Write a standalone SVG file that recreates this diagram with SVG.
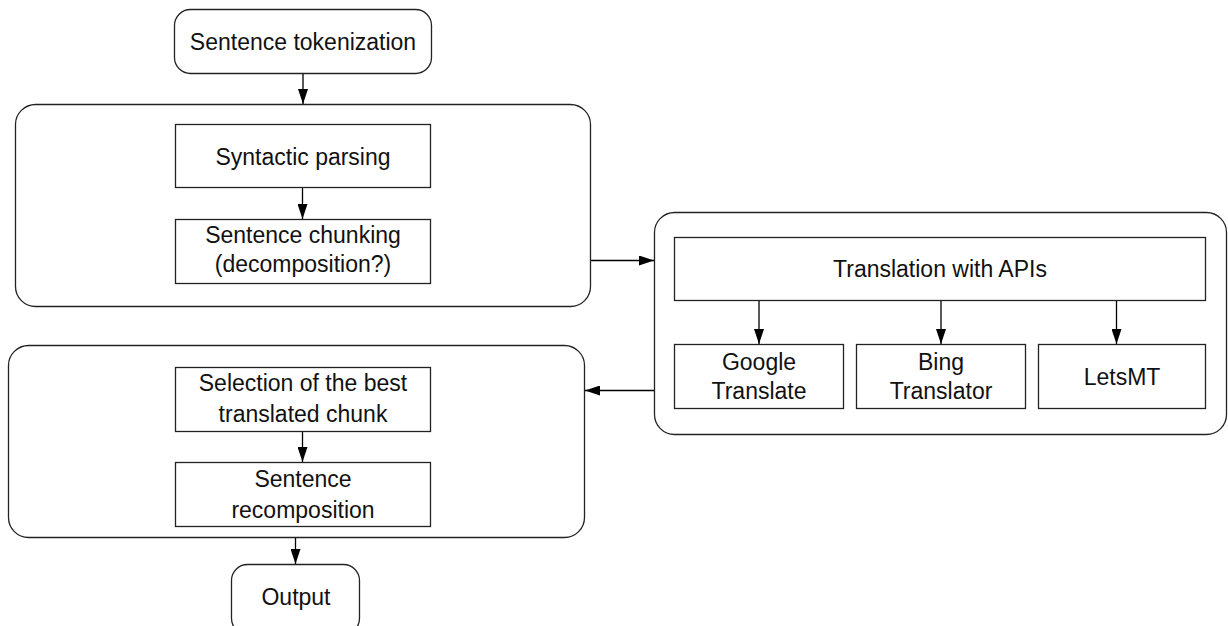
<svg xmlns="http://www.w3.org/2000/svg" width="1228" height="626" viewBox="0 0 1228 626">
<defs>
<marker id="arr" markerWidth="15" markerHeight="10" refX="15" refY="5" orient="auto" markerUnits="userSpaceOnUse"><path d="M0,0 L15,5 L0,10 z" fill="#000"/></marker>
<style>
.box{fill:#fff;stroke:#222;stroke-width:1.3}
.grp{fill:#fff;stroke:#222;stroke-width:1.3}
.t{font-family:"Liberation Sans",Arial,sans-serif;font-size:23px;fill:#111;text-anchor:middle}
.c{stroke:#000;stroke-width:1.3;fill:none;marker-end:url(#arr)}
</style>
</defs>
<rect width="1228" height="626" fill="#fff"/>
<g id="tokenization"><rect class="box" x="174.5" y="9.5" width="257" height="64" rx="16"/><text class="t" x="303" y="50">Sentence tokenization</text></g>
<g id="group-parse"><rect class="grp" x="15.5" y="104.5" width="575" height="202" rx="20"/></g>
<g id="syntactic"><rect class="box" x="175.5" y="124.5" width="255" height="63"/><text class="t" x="303" y="165">Syntactic parsing</text></g>
<g id="chunking"><rect class="box" x="175.5" y="219.5" width="255" height="64"/><text class="t" x="303" y="243">Sentence chunking</text><text class="t" x="303" y="272">(decomposition?)</text></g>
<g id="group-translate"><rect class="grp" x="654.5" y="212.5" width="572" height="222" rx="20"/></g>
<g id="translation"><rect class="box" x="674.5" y="237.5" width="531" height="63"/><text class="t" x="940" y="277">Translation with APIs</text></g>
<g id="google"><rect class="box" x="674.5" y="344.5" width="169" height="64"/><text class="t" x="759" y="370">Google</text><text class="t" x="759" y="399">Translate</text></g>
<g id="bing"><rect class="box" x="856.5" y="344.5" width="169" height="64"/><text class="t" x="941" y="370">Bing</text><text class="t" x="941" y="399">Translator</text></g>
<g id="letsmt"><rect class="box" x="1038.5" y="344.5" width="167" height="64"/><text class="t" x="1122" y="385">LetsMT</text></g>
<g id="group-select"><rect class="grp" x="8.5" y="345.5" width="576" height="192" rx="20"/></g>
<g id="selection"><rect class="box" x="175.5" y="367.5" width="255" height="64"/><text class="t" x="303" y="391">Selection of the best</text><text class="t" x="303" y="422">translated chunk</text></g>
<g id="recomposition"><rect class="box" x="175.5" y="462.5" width="255" height="64"/><text class="t" x="303" y="487">Sentence</text><text class="t" x="303" y="518">recomposition</text></g>
<g id="output"><rect class="box" x="231.5" y="564.5" width="128" height="70" rx="16"/><text class="t" x="296" y="605">Output</text></g>
<g id="connectors">
<line class="c" x1="303" y1="74" x2="303" y2="104"/>
<line class="c" x1="302.5" y1="188" x2="302.5" y2="219"/>
<line class="c" x1="591" y1="260.5" x2="654" y2="260.5"/>
<line class="c" x1="759" y1="301" x2="759" y2="344"/>
<line class="c" x1="941" y1="301" x2="941" y2="344"/>
<line class="c" x1="1116.5" y1="301" x2="1116.5" y2="344"/>
<line class="c" x1="654" y1="390.5" x2="585" y2="390.5"/>
<line class="c" x1="302.5" y1="432" x2="302.5" y2="462"/>
<line class="c" x1="295.5" y1="538" x2="295.5" y2="564"/>
</g>
</svg>
